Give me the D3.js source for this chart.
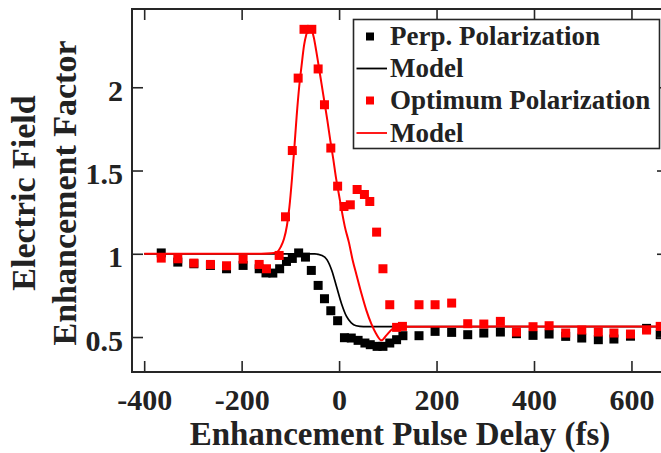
<!DOCTYPE html>
<html>
<head>
<meta charset="utf-8">
<script src="https://cdn.jsdelivr.net/npm/d3@7"></script>
<style>
  html, body { margin: 0; padding: 0; background: #fff; }
  svg { display: block; }
  text { font-family: "Times New Roman", Times, "Liberation Serif", Tinos, serif; font-weight: 700; fill: #222; }
</style>
</head>
<body>
<svg id="chart" width="661" height="453"></svg>
<script>
// ---- Data ----
const perpX = [-365, -331, -298, -264, -231, -197, -164, -150, -136, -122, -108, -96, -83, -69, -57, -43, -30, -17, -3, 11, 25, 39, 53, 64, 78, 90, 104, 118, 131, 164, 197, 231, 264, 297, 331, 364, 398, 431, 465, 498, 532, 564, 598, 631, 659];
const perpY = [1.005, 0.95, 0.94, 0.93, 0.91, 0.93, 0.91, 0.885, 0.884, 0.91, 0.954, 0.972, 1.005, 0.98, 0.9, 0.81, 0.73, 0.658, 0.598, 0.496, 0.494, 0.48, 0.464, 0.454, 0.444, 0.444, 0.464, 0.484, 0.508, 0.508, 0.534, 0.528, 0.514, 0.524, 0.53, 0.52, 0.51, 0.518, 0.504, 0.494, 0.484, 0.488, 0.505, 0.552, 0.514];

const optX = [-365, -331, -298, -264, -231, -197, -164, -149, -123, -110, -96, -84, -72, -56, -43, -30, -17, -3, 10, 23, 37, 52, 63, 77, 90, 104, 118, 130, 164, 197, 231, 264, 297, 331, 364, 398, 431, 465, 498, 532, 564, 598, 631, 659];
const optY = [0.974, 0.97, 0.944, 0.936, 0.928, 0.968, 0.936, 0.91, 0.99, 1.222, 1.62, 2.055, 2.348, 2.348, 2.11, 1.895, 1.635, 1.406, 1.284, 1.294, 1.386, 1.356, 1.314, 1.13, 0.91, 0.694, 0.558, 0.564, 0.694, 0.694, 0.704, 0.58, 0.578, 0.594, 0.53, 0.562, 0.568, 0.524, 0.542, 0.53, 0.524, 0.518, 0.542, 0.564];

const perpModelX = [-400, -50, -35, -25, -15, -5, 5, 15, 25, 35, 50, 675];
const perpModelY = [1.0, 1.0, 0.99, 0.965, 0.9, 0.8, 0.7, 0.625, 0.585, 0.568, 0.563, 0.563];

const optModelX = [-400, -160, -140, -128, -120, -113, -107, -102, -97, -92, -87, -82, -77, -72, -67, -62, -57, -52, -47, -42, -36, -30, -24, -18, -12, -6, 0, 6, 12, 20, 28, 36, 46, 56, 66, 76, 87, 97, 110, 120, 675];
const optModelY = [1.0, 1.0, 1.003, 1.01, 1.04, 1.09, 1.17, 1.28, 1.44, 1.63, 1.83, 2.0, 2.13, 2.25, 2.32, 2.36, 2.35, 2.3, 2.22, 2.13, 2.02, 1.91, 1.8, 1.68, 1.57, 1.45, 1.35, 1.25, 1.16, 1.07, 0.96, 0.87, 0.76, 0.66, 0.58, 0.52, 0.48, 0.51, 0.55, 0.562, 0.563];

const xTicks = [-400, -200, 0, 200, 400, 600];
const xTickLabels = ["-400", "-200", "0", "200", "400", "600"];
const yTicks = [0.5, 1, 1.5, 2];
const yTickLabels = ["0.5", "1", "1.5", "2"];

const legendLabels = ["Perp. Polarization", "Model", "Optimum Polarization", "Model"];
const xTitle = "Enhancement Pulse Delay (fs)";
const yTitle = ["Electric Field", "Enhancement Factor"];

// ---- Layout ----
const svg = d3.select("#chart");
const L = 132, R = 668, T = 9, B = 372;
const axisColor = "#262626";

const x = d3.scaleLinear().domain([-425, 675]).range([L, R]);
const y = d3.scaleLinear().domain([0.29, 2.47]).range([B, T]);

svg.append("defs").append("clipPath").attr("id", "clip")
  .append("rect").attr("x", L).attr("y", T).attr("width", R - L).attr("height", B - T);

const plot = svg.append("g").attr("clip-path", "url(#clip)");

const sq = 9;
function squares(xs, ys, color) {
  plot.append("g").selectAll("rect")
    .data(xs.map((d, i) => [d, ys[i]]))
    .join("rect")
    .attr("x", d => x(d[0]) - sq / 2)
    .attr("y", d => y(d[1]) - sq / 2)
    .attr("width", sq).attr("height", sq)
    .attr("fill", color);
}
function line(xs, ys, color, w) {
  const gen = d3.line().x(d => x(d[0])).y(d => y(d[1])).curve(d3.curveMonotoneX);
  plot.append("path")
    .datum(xs.map((d, i) => [d, ys[i]]))
    .attr("d", gen)
    .attr("fill", "none")
    .attr("stroke", color)
    .attr("stroke-width", w)
    .attr("stroke-linejoin", "round");
}

squares(perpX, perpY, "#000");
line(perpModelX, perpModelY, "#000", 1.7);
squares(optX, optY, "#ff0000");
line(optModelX, optModelY, "#ff0000", 2);

// ---- Axes (box with inward ticks) ----
const tl = 11;
const axes = svg.append("g");
axes.append("rect").attr("x", L).attr("y", T).attr("width", R - L).attr("height", B - T)
  .attr("fill", "none").attr("stroke", axisColor).attr("stroke-width", 2);

const xb = axes.append("g").attr("transform", `translate(0,${B})`)
  .call(d3.axisBottom(x).tickValues(xTicks).tickSize(-tl).tickPadding(0).tickFormat((d, i) => xTickLabels[i]));
const xt = axes.append("g").attr("transform", `translate(0,${T})`)
  .call(d3.axisTop(x).tickValues(xTicks).tickSize(-tl).tickFormat(""));
const yl = axes.append("g").attr("transform", `translate(${L},0)`)
  .call(d3.axisLeft(y).tickValues(yTicks).tickSize(-tl).tickFormat((d, i) => yTickLabels[i]));
const yr = axes.append("g").attr("transform", `translate(${R},0)`)
  .call(d3.axisRight(y).tickValues(yTicks).tickSize(-tl).tickFormat(""));

[xb, xt, yl, yr].forEach(g => {
  g.attr("font-family", null);
  g.select(".domain").remove();
  g.selectAll(".tick line").attr("stroke", axisColor).attr("stroke-width", 1.6);
});
xb.selectAll(".tick text")
  .attr("y", 38).attr("dy", 0)
  .style("font-size", "30px").style("fill", "#222");
yl.selectAll(".tick text")
  .attr("x", -9).attr("dy", 0).attr("y", 13)
  .style("font-size", "30px").style("fill", "#222");

// ---- Axis titles ----
svg.append("text")
  .attr("x", (L + R) / 2).attr("y", 445)
  .attr("text-anchor", "middle")
  .style("font-size", "33px")
  .text(xTitle);

const yBase = [35, 76];
yTitle.forEach((t, i) => {
  svg.append("text")
    .attr("transform", `translate(${yBase[i]},193) rotate(-90)`)
    .attr("text-anchor", "middle")
    .style("font-size", "34px")
    .text(t);
});

// ---- Legend ----
const lg = svg.append("g");
lg.append("rect").attr("x", 353.5).attr("y", 19.5).attr("width", 306).attr("height", 129)
  .attr("fill", "#fff").attr("stroke", axisColor).attr("stroke-width", 1.6);
const rowBase = [45, 77, 109, 141.5];
const rowColor = ["#000", "#000", "#ff0000", "#ff0000"];
const rowType = ["sq", "ln", "sq", "ln"];
legendLabels.forEach((t, i) => {
  const cy = rowBase[i] - 8.5;
  if (rowType[i] === "sq") {
    lg.append("rect").attr("x", 366).attr("y", cy - 4).attr("width", 8).attr("height", 8).attr("fill", rowColor[i]);
  } else {
    lg.append("line").attr("x1", 356.5).attr("x2", 387).attr("y1", cy).attr("y2", cy)
      .attr("stroke", rowColor[i]).attr("stroke-width", 1.8);
  }
  lg.append("text").attr("x", 390).attr("y", rowBase[i]).style("font-size", "27px").text(t);
});
</script>
</body>
</html>
